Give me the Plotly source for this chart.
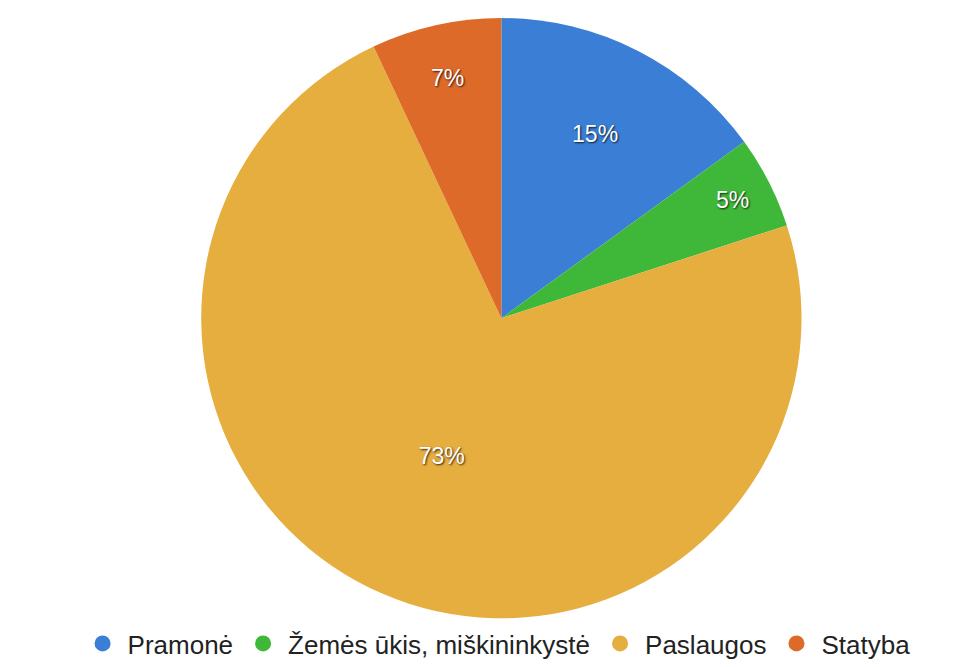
import plotly.graph_objects as go

categories = ["Pramonė", "Žemės ūkis, miškininkystė", "Paslaugos", "Statyba"]
values = [15, 5, 73, 7]
colors = ["#3a7fd5", "#3fb83a", "#e6ad3f", "#de6a2a"]

fig = go.Figure()
fig.add_trace(go.Pie(
    labels=categories, values=values, sort=False, direction="clockwise", rotation=0,
    marker=dict(colors=colors, line=dict(width=0)),
    textinfo="percent", textposition="inside", insidetextorientation="horizontal",
    textfont=dict(family="Liberation Sans", size=23, color="white",
                  shadow="1px 1px 2px rgba(0,0,0,0.8)"),
    showlegend=False, hoverinfo="label+percent",
    domain=dict(x=[0.19, 0.84], y=[0.085, 0.985]),
))
for c, col in zip(categories, colors):
    fig.add_trace(go.Scatter(x=[None], y=[None], mode="markers", name=c,
                             marker=dict(symbol="circle", size=16, color=col)))

fig.update_layout(
    width=958, height=667, margin=dict(l=0, r=0, t=0, b=0),
    paper_bgcolor="white", plot_bgcolor="white",
    xaxis=dict(visible=False), yaxis=dict(visible=False),
    legend=dict(orientation="h", x=0.51, xanchor="center", y=0.012, yanchor="bottom",
                font=dict(family="Liberation Sans", size=26, color="#222"),
                itemsizing="trace", traceorder="normal", itemwidth=40),
)
fig.write_html("out.html")
